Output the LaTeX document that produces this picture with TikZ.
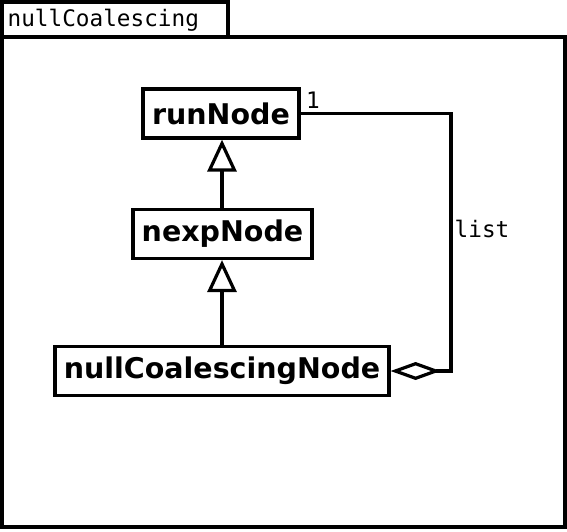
\documentclass[tikz,border=0pt]{standalone}
\usepackage{fontspec}
\setmainfont{DejaVu Sans}
\setmonofont{DejaVu Sans Mono}
\usetikzlibrary{arrows.meta}
\begin{document}
\begin{tikzpicture}[
    x=1pt, y=-1pt,
    line width=3.2pt,
    class box/.style={draw, font=\fontsize{28.5}{32}\selectfont\bfseries, minimum height=49pt, inner sep=0pt},
    mono label/.style={font=\fontsize{22.7}{26}\selectfont\ttfamily, inner sep=0pt},
    inherit/.style={draw, -{Triangle[open, width=29pt, length=32pt]}},
    aggregate/.style={draw, {Diamond[open, width=18pt, length=50pt]}-},
    ]
\useasboundingbox (0,0) rectangle (567,531);
% package frame
\draw (2,37) rectangle (565,527);
\draw (2,2) rectangle (228,37);
\node[mono label, anchor=west] (pkg) at (6,20) {nullCoalescing};
% classes
\node[class box, minimum width=156pt] (runNode) at (221,113.5) {runNode};
\node[class box, minimum width=179pt] (nexpNode) at (222.5,234) {nexpNode};
\node[class box, minimum width=334pt] (nullNode) at (222,371) {nullCoalescingNode};
\draw[inherit] (nexpNode.north -| 222,0) -- (runNode.south -| 222,0);
\draw[inherit] (nullNode.north -| 222,0) -- (nexpNode.south -| 222,0);
\coordinate (corner) at (451,113.5);
\draw[aggregate] (nullNode.east) -- (nullNode.east -| corner) -- (corner) -- (runNode.east);
\node[mono label] (one) at (313,100) {1};
\node[mono label] (list) at (482,229) {list};
\end{tikzpicture}
\end{document}
